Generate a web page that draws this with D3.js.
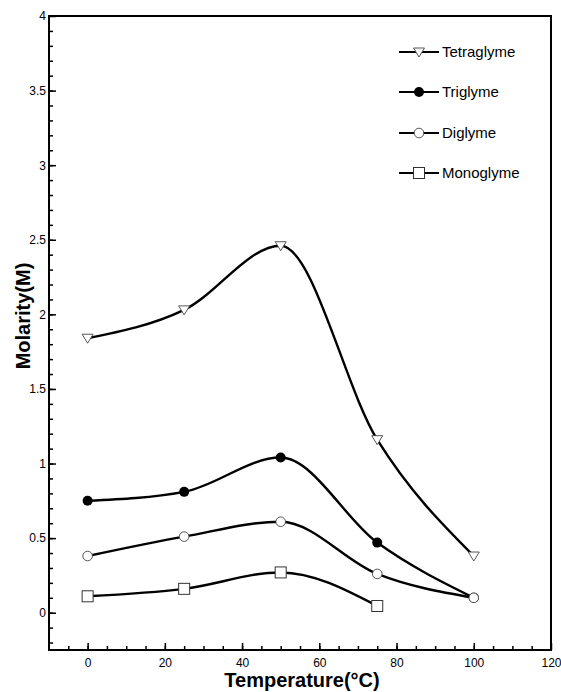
<!DOCTYPE html>
<html>
<head>
<meta charset="utf-8">
<script src="https://cdn.jsdelivr.net/npm/d3@7"></script>
<style>
  body { margin: 0; background: #fff; }
  text { font-family: "Liberation Sans", Arial, sans-serif; }
</style>
</head>
<body>
<div id="chart"></div>
<script>
// data
const temps = [0, 25, 50, 75, 100];
const tetraglyme = [1.84, 2.03, 2.46, 1.16, 0.38];
const triglyme = [0.75, 0.81, 1.04, 0.47, 0.10];
const diglyme = [0.38, 0.51, 0.61, 0.26, 0.10];
const monoglyme = [0.11, 0.16, 0.27, 0.045];
const xTicks = [0, 20, 40, 60, 80, 100, 120];
const yTicks = [0, 0.5, 1, 1.5, 2, 2.5, 3, 3.5, 4];

const seriesNames = ["Tetraglyme", "Triglyme", "Diglyme", "Monoglyme"];
const seriesValues = [tetraglyme, triglyme, diglyme, monoglyme];
const seriesMarkers = ["triDown", "dotFilled", "dotOpen", "square"];

var margin = {top: 16, right: 10, bottom: 42, left: 49};
var width = 561 - margin.left - margin.right;
var height = 692 - margin.top - margin.bottom;

const svg = d3.select("#chart")
  .append("svg")
    .attr("width", 561)
    .attr("height", 692)
  .append("g")
    .attr("transform", `translate(${margin.left},${margin.top})`);

var x = d3.scaleLinear().domain([-10, 120]).range([0, width]);
var y = d3.scaleLinear().domain([-0.25, 4]).range([height, 0]);

// frame
svg.append("rect")
  .attr("width", width).attr("height", height)
  .attr("fill", "none").attr("stroke", "#000").attr("stroke-width", 2);

// X axis: minor ticks every 5, labels every 20, ticks pointing in
svg.append("g")
  .attr("transform", `translate(0,${height})`)
  .call(d3.axisBottom(x).tickValues(d3.range(-5, 120, 5)).tickSize(-4).tickFormat(""))
  .call(g => g.select(".domain").remove())
  .selectAll("line").attr("stroke-width", 1.5);
svg.append("g")
  .attr("transform", `translate(0,${height})`)
  .call(d3.axisBottom(x).tickValues(xTicks).tickSize(-7).tickPadding(8).tickFormat(d3.format("d")))
  .call(g => g.select(".domain").remove())
  .call(g => g.selectAll("line").attr("stroke-width", 1.5))
  .selectAll("text").style("font-size", "12px");

// Y axis: minor ticks every 0.1, labels every 0.5
svg.append("g")
  .call(d3.axisLeft(y).tickValues(d3.range(-0.2, 4.0, 0.1)).tickSize(-4).tickFormat(""))
  .call(g => g.select(".domain").remove())
  .selectAll("line").attr("stroke-width", 1.5);
svg.append("g")
  .call(d3.axisLeft(y).tickValues(yTicks).tickSize(-7).tickPadding(3).tickFormat(d => d3.format("")(d)))
  .call(g => g.select(".domain").remove())
  .call(g => g.selectAll("line").attr("stroke-width", 1.5))
  .selectAll("text").style("font-size", "12px");

// axis titles
svg.append("text")
  .attr("x", 302 - margin.left).attr("y", 687 - margin.top)
  .style("text-anchor", "middle")
  .style("font-size", "20px").attr("font-weight", "bold")
  .text("Temperature(\u00B0C)");
svg.append("text")
  .attr("transform", `translate(${22.5 - margin.left},${316 - margin.top})rotate(-90)`)
  .style("text-anchor", "middle")
  .attr("dy", "0.35em")
  .style("font-size", "20px").attr("font-weight", "bold")
  .text("Molarity(M)");

// marker drawing
function drawMarker(g, kind) {
  if (kind == "triDown") {
    g.append("path").attr("d", "M-5.5,-4 L5.5,-4 L0,5 Z")
      .attr("fill", "#fff").attr("stroke", "#444").attr("stroke-width", 0.9);
  } else if (kind == "dotFilled") {
    g.append("circle").attr("r", 5).attr("fill", "#000");
  } else if (kind == "dotOpen") {
    g.append("circle").attr("r", 4.8)
      .attr("fill", "#fff").attr("stroke", "#444").attr("stroke-width", 0.9);
  } else {
    g.append("rect").attr("x", -5.5).attr("y", -5.5).attr("width", 11).attr("height", 11)
      .attr("fill", "#fff").attr("stroke", "#333").attr("stroke-width", 1);
  }
}

var line = d3.line()
  .x(d => x(d[0]))
  .y(d => y(d[1]))
  .curve(d3.curveMonotoneX);

seriesValues.forEach(function(vals, i) {
  var pts = vals.map((v, j) => [temps[j], v]);
  svg.append("path")
    .datum(pts)
    .attr("d", line)
    .attr("fill", "none")
    .attr("stroke", "#000")
    .attr("stroke-width", 2.4);
  pts.forEach(function(p) {
    var g = svg.append("g").attr("transform", `translate(${x(p[0])},${y(p[1])})`);
    drawMarker(g, seriesMarkers[i]);
  });
});

// legend
var legendY = [52, 92, 133, 173];
seriesNames.forEach(function(name, i) {
  var g = svg.append("g").attr("transform", `translate(${419 - margin.left},${legendY[i] - margin.top})`);
  g.append("line").attr("x1", -20).attr("x2", 20)
    .attr("stroke", "#000").attr("stroke-width", 2);
  drawMarker(g, seriesMarkers[i]);
  g.append("text").attr("x", 23).attr("dy", "0.35em")
    .style("font-size", "15px").text(name);
});
</script>
</body>
</html>
